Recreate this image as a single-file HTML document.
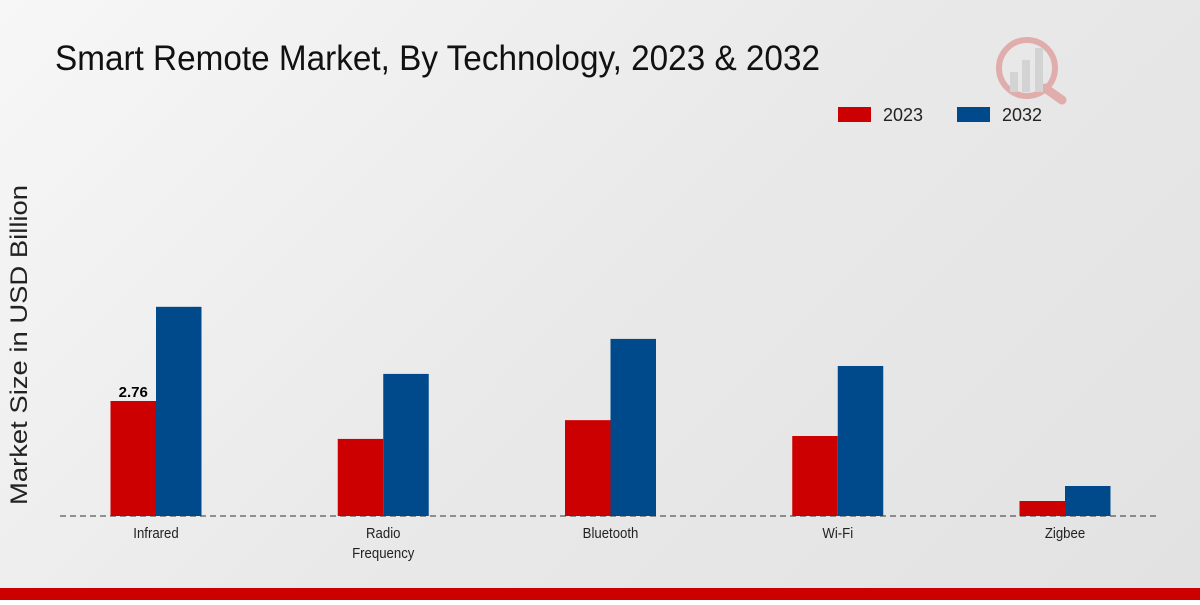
<!DOCTYPE html>
<html><head><meta charset="utf-8"><style>
body{margin:0;width:1200px;height:600px;overflow:hidden;font-family:"Liberation Sans",sans-serif;}
#wrap{position:relative;width:1200px;height:600px;background:linear-gradient(135deg,#f7f7f7 0%,#e9e9e9 50%,#e2e2e2 100%);}
</style></head><body>
<div id="wrap">
<svg id="chart" width="1200" height="600">
  <text x="55" y="70" font-size="35" fill="#111" textLength="765" lengthAdjust="spacingAndGlyphs">Smart Remote Market, By Technology, 2023 &amp; 2032</text>
  <g opacity="0.25">
    <circle cx="1027" cy="68" r="28" fill="none" stroke="#c00" stroke-width="6"/>
    <line x1="1045" y1="88" x2="1062" y2="100" stroke="#c00" stroke-width="9" stroke-linecap="round"/>
    <rect x="1010" y="72" width="8" height="20" fill="#999"/>
    <rect x="1022" y="60" width="8" height="32" fill="#999"/>
    <rect x="1035" y="48" width="8" height="44" fill="#999"/>
  </g>
  <g>
    <rect x="838" y="107" width="33" height="15" fill="#cc0000"/>
    <text x="883" y="121" font-size="18" fill="#222" textLength="40" lengthAdjust="spacingAndGlyphs">2023</text>
    <rect x="957" y="107" width="33" height="15" fill="#004a8c"/>
    <text x="1002" y="121" font-size="18" fill="#222" textLength="40" lengthAdjust="spacingAndGlyphs">2032</text>
  </g>
  <text transform="translate(27,345) rotate(-90)" text-anchor="middle" font-size="24" fill="#222" textLength="320" lengthAdjust="spacingAndGlyphs">Market Size in USD Billion</text>
  <g id="bars"></g>
  <line x1="60" y1="516" x2="1160" y2="516" stroke="#333" stroke-width="1" stroke-dasharray="6,4"/>
  <g id="xlabels"></g>
</svg>
<div style="position:absolute;left:0;top:588px;width:1200px;height:12px;background:#cc0000"></div>
</div>
<script>
const categories=[["Infrared"],["Radio","Frequency"],["Bluetooth"],["Wi-Fi"],["Zigbee"]];
const values2023=[2.76,1.85,2.30,1.92,0.36];
const values2032=[5.02,3.41,4.25,3.60,0.72];
const labels2023=["2.76",null,null,null,null];
const ns="http://www.w3.org/2000/svg";
const baseY=516, pxPerUnit=41.67, x0=156, step=227.25, bw=45.5;
function yScale(v){return baseY-v*pxPerUnit;}
function xCenter(i){return x0+i*step;}
const bars=document.getElementById('bars'), xl=document.getElementById('xlabels');
categories.forEach((c,i)=>{
  [[values2023,'#cc0000','2023',-bw],[values2032,'#004a8c','2032',0]].forEach(([arr,col,yr,off])=>{
    const r=document.createElementNS(ns,'rect');
    r.setAttribute('x',xCenter(i)+off);r.setAttribute('width',bw);
    r.setAttribute('y',yScale(arr[i]));r.setAttribute('height',baseY-yScale(arr[i]));
    r.setAttribute('fill',col);
    
    
    bars.appendChild(r);
  });
  if(labels2023[i]){
    const t=document.createElementNS(ns,'text');
    t.setAttribute('x',xCenter(i)-bw/2);t.setAttribute('y',yScale(values2023[i])-4);
    t.setAttribute('text-anchor','middle');t.setAttribute('font-size','15');t.setAttribute('font-weight','bold');
    t.textContent=labels2023[i];
    
    
    bars.appendChild(t);
  }
  c.forEach((line,j)=>{
    const t=document.createElementNS(ns,'text');
    t.setAttribute('transform','translate('+xCenter(i)+','+(538+j*20)+') scale(0.88,1)');
    t.setAttribute('text-anchor','middle');t.setAttribute('font-size','15');t.setAttribute('fill','#222');
    t.textContent=line;
    
    
    xl.appendChild(t);
  });
});
</script>
</body></html>
